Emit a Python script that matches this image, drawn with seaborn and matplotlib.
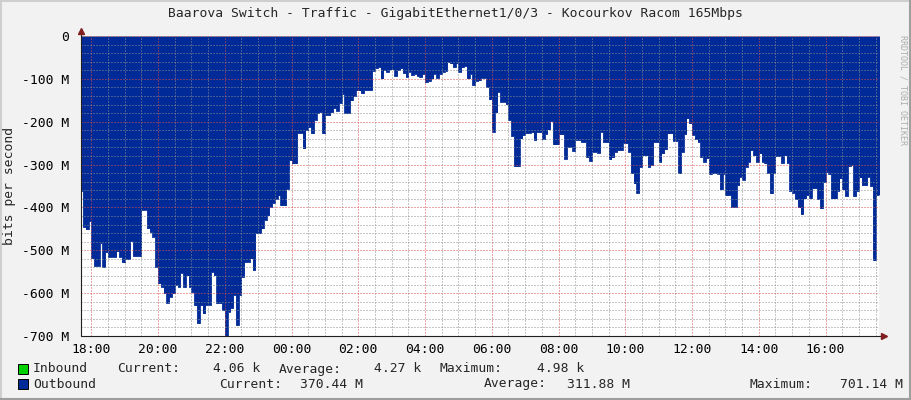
import numpy as np
import pandas as pd
import seaborn as sns
import matplotlib.pyplot as plt
import matplotlib.dates as mdates
from matplotlib.lines import Line2D
from matplotlib.patches import Rectangle

# ---- data ----
title = "Baarova Switch - Traffic - GigabitEthernet1/0/3 - Kocourkov Racom 165Mbps"
start = "2024-05-13 17:40"      # first 5-minute sample
step_min = 5

# outbound traffic, Mbit/s, one value per 5 minutes (drawn negative)
outbound_mbps = [
    361, 445, 451, 432, 518, 536, 536, 483, 538, 504,
    515, 515, 515, 502, 515, 528, 520, 520, 478, 513,
    513, 513, 405, 405, 448, 457, 468, 540, 577, 585,
    600, 622, 608, 600, 580, 585, 552, 585, 558, 585,
    597, 628, 670, 628, 647, 627, 627, 550, 558, 623,
    623, 639, 701, 643, 634, 604, 674, 604, 562, 527,
    527, 519, 546, 460, 460, 449, 429, 418, 398, 389,
    380, 372, 395, 395, 356, 289, 297, 297, 226, 226,
    262, 219, 212, 227, 195, 180, 177, 227, 184, 184,
    177, 168, 174, 156, 135, 180, 180, 150, 141, 127,
    127, 134, 126, 126, 126, 81, 75, 72, 99, 80,
    83, 78, 78, 93, 79, 75, 86, 95, 83, 91,
    88, 93, 95, 88, 107, 104, 99, 88, 97, 88,
    83, 81, 60, 64, 72, 64, 83, 73, 70, 99,
    88, 114, 104, 103, 97, 97, 118, 148, 223, 178,
    130, 153, 153, 159, 196, 233, 304, 304, 239, 231,
    226, 226, 224, 243, 224, 224, 241, 228, 218, 198,
    253, 253, 229, 229, 286, 258, 258, 268, 242, 242,
    247, 247, 282, 291, 270, 270, 272, 223, 247, 247,
    288, 283, 270, 266, 266, 249, 250, 270, 320, 344,
    366, 305, 278, 278, 305, 300, 247, 247, 293, 274,
    264, 227, 227, 244, 244, 320, 270, 229, 192, 204,
    230, 241, 247, 282, 293, 285, 322, 320, 320, 321,
    358, 322, 371, 371, 398, 398, 348, 328, 335, 305,
    293, 266, 278, 293, 274, 293, 297, 320, 367, 320,
    280, 280, 296, 278, 296, 361, 366, 380, 400, 415,
    379, 371, 378, 355, 355, 380, 402, 340, 317, 322,
    379, 379, 361, 332, 358, 373, 304, 301, 373, 361,
    330, 348, 348, 328, 350, 523, 371, 371,
]

# inbound traffic, kbit/s, hourly (tiny next to outbound)
inbound_kbps = [4.3, 4.1, 4.5, 4.2, 4.98, 4.4, 4.1, 4.0, 4.3, 4.2, 4.4, 4.6,
                4.2, 4.1, 4.3, 4.5, 4.2, 4.0, 4.4, 4.3, 4.1, 4.2, 4.3, 4.06]

legend_rows = [
    ("Inbound", "4.06 k", "4.27 k", "4.98 k"),
    ("Outbound", "370.44 M", "311.88 M", "701.14 M"),
]

y_ticks = [0, -100, -200, -300, -400, -500, -600, -700]
y_tick_labels = ["0", "-100 M", "-200 M", "-300 M", "-400 M", "-500 M", "-600 M", "-700 M"]

# ---- colours (rrdtool defaults + cacti traffic colours) ----
BACK = "#F2F2F2"
BLUE = "#002A97"
GREEN = "#00CF00"
GRID = (0.56, 0.56, 0.56, 0.55)
MGRID = (0.87, 0.31, 0.31, 0.6)
ARROW = (0.5, 0.12, 0.12)
AXIS = (0.12, 0.12, 0.12)

times = pd.date_range(start, periods=len(outbound_mbps), freq=f"{step_min}min")
df = pd.DataFrame({"time": times, "value": -np.array(outbound_mbps, dtype=float)})
in_times = pd.date_range(start, periods=len(inbound_kbps), freq="60min")
df_in = pd.DataFrame({"time": in_times, "value": np.array(inbound_kbps) / 1000.0})

sns.set_style("white")
plt.rcParams["font.family"] = ["DejaVu Sans Mono", "DejaVu Sans"]
plt.rcParams["font.size"] = 9.4

W, H = 911, 400
fig = plt.figure(figsize=(W / 100, H / 100), dpi=100, facecolor=BACK)


def fx(x):
    return x / W


def fy(y):
    return 1 - y / H


ax = fig.add_axes([fx(81), fy(336), fx(879) - fx(81), fy(36) - fy(336)])
ax.set_facecolor("white")

# inbound is a few kbit/s, hidden under the outbound area like in rrdtool
sns.lineplot(x="time", y="value", data=df_in, drawstyle="steps-post", color=GREEN,
             lw=0.3, estimator=None, ax=ax, zorder=0.5)

# area: step ends at the end of the last 5 minute interval
edges = times.append(pd.DatetimeIndex([times[-1] + pd.Timedelta(minutes=step_min)]))
vals = np.append(df["value"].values, df["value"].values[-1])
ax.fill_between(edges, 0, vals, step="post", color=BLUE, lw=0, zorder=1)
sns.lineplot(x="time", y="value", data=df, drawstyle="steps-post", color=BLUE,
             lw=0.6, estimator=None, ax=ax, zorder=1.5)

t_left = pd.Timestamp(start) + pd.Timedelta(minutes=1.5)
t_right = pd.Timestamp(start) + pd.Timedelta(hours=23.935)
ax.set_xlim(t_left, t_right)
ax.set_ylim(-700, 0)

ax.xaxis.set_major_locator(mdates.HourLocator(byhour=range(0, 24, 2)))
ax.xaxis.set_minor_locator(mdates.MinuteLocator(byminute=[0, 30]))
ax.xaxis.set_major_formatter(mdates.DateFormatter("%H:%M"))
ax.set_yticks(y_ticks)
ax.set_yticklabels(y_tick_labels)
ax.set_yticks(np.arange(-700, 1, 20), minor=True)

ax.set_axisbelow(False)
ax.grid(which="minor", color=GRID, linestyle=(0, (1, 2)), lw=0.72)
ax.grid(which="major", color=MGRID, linestyle=(0, (1, 2)), lw=0.72)

ax.tick_params(axis="both", which="major", length=2.2, width=0.72, color=AXIS,
               labelsize=9.4, labelcolor="black")
ax.tick_params(axis="both", which="minor", length=1.4, width=0.72, color=AXIS)
ax.tick_params(axis="y", pad=6.5)
ax.tick_params(axis="x", pad=3.0)
ax.set_xlabel("")
ax.set_ylabel("")

for s in ["top", "right", "left", "bottom"]:
    ax.spines[s].set_visible(False)

# axes with arrows, rrdtool style
fig.add_artist(Line2D([fx(81), fx(81)], [fy(336), fy(31)], color=AXIS, lw=0.8))
fig.add_artist(Line2D([fx(81), fx(884)], [fy(336), fy(336)], color=AXIS, lw=0.8))
fig.add_artist(Line2D([fx(81)], [fy(31)], marker="^", markersize=5, color=ARROW, lw=0))
fig.add_artist(Line2D([fx(884)], [fy(336)], marker=">", markersize=5, color=ARROW, lw=0))

# frame shading
fig.add_artist(Line2D([0, 1], [fy(0.5), fy(0.5)], color="#CFCFCF", lw=1.5))
fig.add_artist(Line2D([fx(0.5), fx(0.5)], [0, 1], color="#CFCFCF", lw=1.5))
fig.add_artist(Line2D([0, 1], [fy(399), fy(399)], color="#9E9E9E", lw=1.5))
fig.add_artist(Line2D([fx(910), fx(910)], [0, 1], color="#9E9E9E", lw=1.5))

fig.text(fx(455), fy(14), title, ha="center", va="center", fontsize=9.4)
fig.text(fx(10), fy(186), "bits per second", rotation=90, ha="center", va="center",
         fontsize=9.4)
fig.text(fx(903), fy(90), "RRDTOOL / TOBI OETIKER", rotation=270, ha="center",
         va="center", fontsize=6, color="#ADADAD")

# legend / gprint lines
row_y = [369, 384]
colors = [GREEN, BLUE]
cur_x = [(117, 260), (219, 363)]
avg_x = [(279, 421), (484, 630)]
max_x = [(440, 584), (750, 903)]
for i, (name, cur, avg, mx) in enumerate(legend_rows):
    y = row_y[i]
    fig.add_artist(Rectangle((fx(18), fy(y + 5)), 10 / W, 10 / H, facecolor=colors[i],
                             edgecolor="black", lw=0.7))
    fig.text(fx(33), fy(y), name, ha="left", va="center")
    fig.text(fx(cur_x[i][0]), fy(y), "Current:", ha="left", va="center")
    fig.text(fx(cur_x[i][1]), fy(y), cur, ha="right", va="center")
    fig.text(fx(avg_x[i][0]), fy(y), "Average:", ha="left", va="center")
    fig.text(fx(avg_x[i][1]), fy(y), avg, ha="right", va="center")
    fig.text(fx(max_x[i][0]), fy(y), "Maximum:", ha="left", va="center")
    fig.text(fx(max_x[i][1]), fy(y), mx, ha="right", va="center")

fig.savefig("out.png", dpi=100, facecolor=BACK)
